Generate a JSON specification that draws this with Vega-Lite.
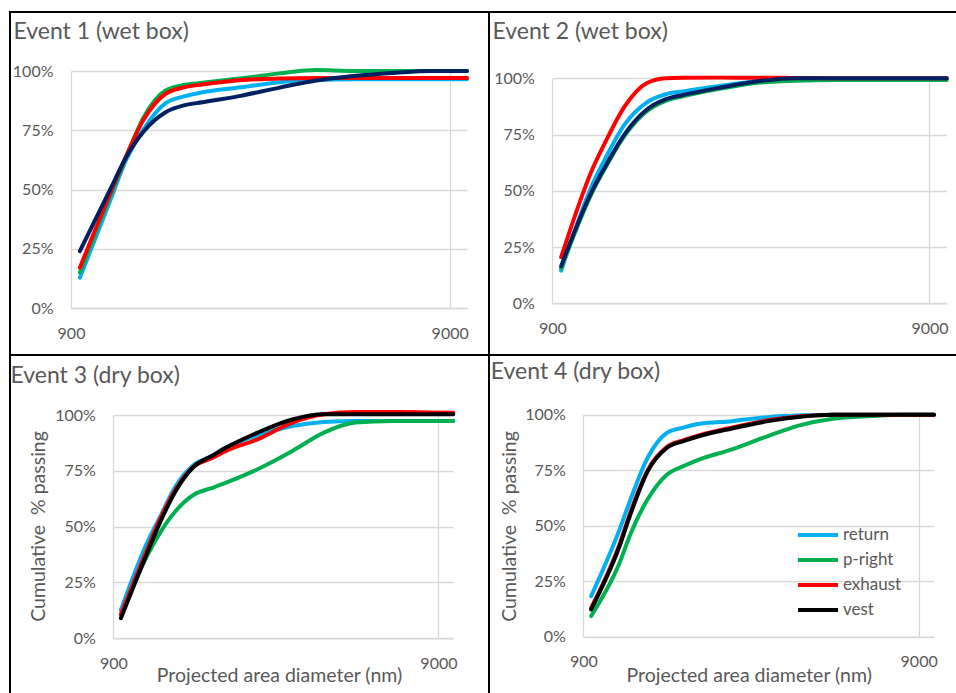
{
  "$schema": "https://vega.github.io/schema/vega-lite/v6.json",
  "padding": {"left": 9, "top": 11, "right": 0, "bottom": 0},
  "background": "white",
  "config": {
    "font": "Lato",
    "view": {"stroke": "#000000", "strokeWidth": 2},
    "axis": {
      "labelFont": "Lato", "labelFontSize": 16, "labelColor": "#595959",
      "ticks": false, "tickSize": 0,
      "gridColor": "#d9d9d9", "gridWidth": 1.3,
      "domainColor": "#d9d9d9", "domainWidth": 1.3,
      "titleFont": "Lato", "titleFontSize": 19.5, "titleColor": "#595959", "titleFontWeight": "normal",
      "labelOverlap": false, "labelFlush": false
    },
    "title": {"font": "Lato", "fontSize": 23, "color": "#595959", "fontWeight": "normal", "anchor": "start", "frame": "group"},
    "line": {"strokeWidth": 4, "interpolate": "monotone", "strokeCap": "round"}
  },
  "datasets": {
    "curves": [
      {"event": 1, "sample": "return", "diameter": 950, "passing": 0.128},
      {"event": 1, "sample": "return", "diameter": 1150, "passing": 0.465},
      {"event": 1, "sample": "return", "diameter": 1250, "passing": 0.615},
      {"event": 1, "sample": "return", "diameter": 1400, "passing": 0.755},
      {"event": 1, "sample": "return", "diameter": 1600, "passing": 0.864},
      {"event": 1, "sample": "return", "diameter": 1800, "passing": 0.894},
      {"event": 1, "sample": "return", "diameter": 2000, "passing": 0.91},
      {"event": 1, "sample": "return", "diameter": 2500, "passing": 0.93},
      {"event": 1, "sample": "return", "diameter": 3200, "passing": 0.953},
      {"event": 1, "sample": "return", "diameter": 4000, "passing": 0.962},
      {"event": 1, "sample": "return", "diameter": 5000, "passing": 0.965},
      {"event": 1, "sample": "return", "diameter": 6500, "passing": 0.965},
      {"event": 1, "sample": "return", "diameter": 8000, "passing": 0.965},
      {"event": 1, "sample": "return", "diameter": 10000, "passing": 0.965},
      {"event": 1, "sample": "p-right", "diameter": 950, "passing": 0.15},
      {"event": 1, "sample": "p-right", "diameter": 1150, "passing": 0.485},
      {"event": 1, "sample": "p-right", "diameter": 1250, "passing": 0.625},
      {"event": 1, "sample": "p-right", "diameter": 1400, "passing": 0.805},
      {"event": 1, "sample": "p-right", "diameter": 1600, "passing": 0.918},
      {"event": 1, "sample": "p-right", "diameter": 1800, "passing": 0.942},
      {"event": 1, "sample": "p-right", "diameter": 2000, "passing": 0.95},
      {"event": 1, "sample": "p-right", "diameter": 2500, "passing": 0.968},
      {"event": 1, "sample": "p-right", "diameter": 3200, "passing": 0.99},
      {"event": 1, "sample": "p-right", "diameter": 4000, "passing": 1.004},
      {"event": 1, "sample": "p-right", "diameter": 5000, "passing": 1.0},
      {"event": 1, "sample": "p-right", "diameter": 6500, "passing": 1.0},
      {"event": 1, "sample": "p-right", "diameter": 8000, "passing": 1.0},
      {"event": 1, "sample": "p-right", "diameter": 10000, "passing": 1.0},
      {"event": 1, "sample": "exhaust", "diameter": 950, "passing": 0.17},
      {"event": 1, "sample": "exhaust", "diameter": 1150, "passing": 0.495},
      {"event": 1, "sample": "exhaust", "diameter": 1250, "passing": 0.63},
      {"event": 1, "sample": "exhaust", "diameter": 1400, "passing": 0.795},
      {"event": 1, "sample": "exhaust", "diameter": 1600, "passing": 0.904},
      {"event": 1, "sample": "exhaust", "diameter": 1800, "passing": 0.932},
      {"event": 1, "sample": "exhaust", "diameter": 2000, "passing": 0.943},
      {"event": 1, "sample": "exhaust", "diameter": 2500, "passing": 0.961},
      {"event": 1, "sample": "exhaust", "diameter": 3200, "passing": 0.968},
      {"event": 1, "sample": "exhaust", "diameter": 4000, "passing": 0.97},
      {"event": 1, "sample": "exhaust", "diameter": 5000, "passing": 0.97},
      {"event": 1, "sample": "exhaust", "diameter": 6500, "passing": 0.97},
      {"event": 1, "sample": "exhaust", "diameter": 8000, "passing": 0.97},
      {"event": 1, "sample": "exhaust", "diameter": 10000, "passing": 0.97},
      {"event": 1, "sample": "vest", "diameter": 950, "passing": 0.24},
      {"event": 1, "sample": "vest", "diameter": 1150, "passing": 0.51},
      {"event": 1, "sample": "vest", "diameter": 1250, "passing": 0.628},
      {"event": 1, "sample": "vest", "diameter": 1400, "passing": 0.745},
      {"event": 1, "sample": "vest", "diameter": 1600, "passing": 0.826},
      {"event": 1, "sample": "vest", "diameter": 1800, "passing": 0.856},
      {"event": 1, "sample": "vest", "diameter": 2000, "passing": 0.868},
      {"event": 1, "sample": "vest", "diameter": 2500, "passing": 0.894},
      {"event": 1, "sample": "vest", "diameter": 3200, "passing": 0.93},
      {"event": 1, "sample": "vest", "diameter": 4000, "passing": 0.96},
      {"event": 1, "sample": "vest", "diameter": 5000, "passing": 0.979},
      {"event": 1, "sample": "vest", "diameter": 6500, "passing": 0.993},
      {"event": 1, "sample": "vest", "diameter": 8000, "passing": 1.0},
      {"event": 1, "sample": "vest", "diameter": 10000, "passing": 1.0},

      {"event": 2, "sample": "return", "diameter": 950, "passing": 0.145},
      {"event": 2, "sample": "return", "diameter": 1150, "passing": 0.529},
      {"event": 2, "sample": "return", "diameter": 1250, "passing": 0.651},
      {"event": 2, "sample": "return", "diameter": 1400, "passing": 0.795},
      {"event": 2, "sample": "return", "diameter": 1600, "passing": 0.892},
      {"event": 2, "sample": "return", "diameter": 1800, "passing": 0.929},
      {"event": 2, "sample": "return", "diameter": 2000, "passing": 0.942},
      {"event": 2, "sample": "return", "diameter": 2500, "passing": 0.966},
      {"event": 2, "sample": "return", "diameter": 3200, "passing": 0.988},
      {"event": 2, "sample": "return", "diameter": 4000, "passing": 0.995},
      {"event": 2, "sample": "return", "diameter": 5000, "passing": 0.996},
      {"event": 2, "sample": "return", "diameter": 6500, "passing": 0.996},
      {"event": 2, "sample": "return", "diameter": 8000, "passing": 0.996},
      {"event": 2, "sample": "return", "diameter": 10000, "passing": 0.996},
      {"event": 2, "sample": "p-right", "diameter": 950, "passing": 0.155},
      {"event": 2, "sample": "p-right", "diameter": 1150, "passing": 0.495},
      {"event": 2, "sample": "p-right", "diameter": 1250, "passing": 0.608},
      {"event": 2, "sample": "p-right", "diameter": 1400, "passing": 0.745},
      {"event": 2, "sample": "p-right", "diameter": 1600, "passing": 0.853},
      {"event": 2, "sample": "p-right", "diameter": 1800, "passing": 0.9},
      {"event": 2, "sample": "p-right", "diameter": 2000, "passing": 0.92},
      {"event": 2, "sample": "p-right", "diameter": 2500, "passing": 0.953},
      {"event": 2, "sample": "p-right", "diameter": 3200, "passing": 0.981},
      {"event": 2, "sample": "p-right", "diameter": 4000, "passing": 0.989},
      {"event": 2, "sample": "p-right", "diameter": 5000, "passing": 0.992},
      {"event": 2, "sample": "p-right", "diameter": 6500, "passing": 0.992},
      {"event": 2, "sample": "p-right", "diameter": 8000, "passing": 0.992},
      {"event": 2, "sample": "p-right", "diameter": 10000, "passing": 0.992},
      {"event": 2, "sample": "exhaust", "diameter": 950, "passing": 0.205},
      {"event": 2, "sample": "exhaust", "diameter": 1150, "passing": 0.597},
      {"event": 2, "sample": "exhaust", "diameter": 1250, "passing": 0.723},
      {"event": 2, "sample": "exhaust", "diameter": 1400, "passing": 0.875},
      {"event": 2, "sample": "exhaust", "diameter": 1600, "passing": 0.978},
      {"event": 2, "sample": "exhaust", "diameter": 1800, "passing": 1.0},
      {"event": 2, "sample": "exhaust", "diameter": 2000, "passing": 1.002},
      {"event": 2, "sample": "exhaust", "diameter": 2500, "passing": 1.003},
      {"event": 2, "sample": "exhaust", "diameter": 3200, "passing": 1.003},
      {"event": 2, "sample": "exhaust", "diameter": 4000, "passing": 1.001},
      {"event": 2, "sample": "exhaust", "diameter": 5000, "passing": 1.0},
      {"event": 2, "sample": "exhaust", "diameter": 6500, "passing": 1.0},
      {"event": 2, "sample": "exhaust", "diameter": 8000, "passing": 1.0},
      {"event": 2, "sample": "exhaust", "diameter": 10000, "passing": 1.0},
      {"event": 2, "sample": "vest", "diameter": 950, "passing": 0.165},
      {"event": 2, "sample": "vest", "diameter": 1150, "passing": 0.503},
      {"event": 2, "sample": "vest", "diameter": 1250, "passing": 0.615},
      {"event": 2, "sample": "vest", "diameter": 1400, "passing": 0.752},
      {"event": 2, "sample": "vest", "diameter": 1600, "passing": 0.86},
      {"event": 2, "sample": "vest", "diameter": 1800, "passing": 0.907},
      {"event": 2, "sample": "vest", "diameter": 2000, "passing": 0.926},
      {"event": 2, "sample": "vest", "diameter": 2500, "passing": 0.958},
      {"event": 2, "sample": "vest", "diameter": 3200, "passing": 0.988},
      {"event": 2, "sample": "vest", "diameter": 4000, "passing": 1.0},
      {"event": 2, "sample": "vest", "diameter": 5000, "passing": 1.0},
      {"event": 2, "sample": "vest", "diameter": 6500, "passing": 1.0},
      {"event": 2, "sample": "vest", "diameter": 8000, "passing": 1.0},
      {"event": 2, "sample": "vest", "diameter": 10000, "passing": 1.0},

      {"event": 3, "sample": "return", "diameter": 950, "passing": 0.127},
      {"event": 3, "sample": "return", "diameter": 1150, "passing": 0.436},
      {"event": 3, "sample": "return", "diameter": 1250, "passing": 0.54},
      {"event": 3, "sample": "return", "diameter": 1400, "passing": 0.682},
      {"event": 3, "sample": "return", "diameter": 1600, "passing": 0.779},
      {"event": 3, "sample": "return", "diameter": 1800, "passing": 0.815},
      {"event": 3, "sample": "return", "diameter": 2000, "passing": 0.854},
      {"event": 3, "sample": "return", "diameter": 2500, "passing": 0.91},
      {"event": 3, "sample": "return", "diameter": 3200, "passing": 0.951},
      {"event": 3, "sample": "return", "diameter": 4000, "passing": 0.969},
      {"event": 3, "sample": "return", "diameter": 5000, "passing": 0.973},
      {"event": 3, "sample": "return", "diameter": 6500, "passing": 0.973},
      {"event": 3, "sample": "return", "diameter": 8000, "passing": 0.973},
      {"event": 3, "sample": "return", "diameter": 10000, "passing": 0.973},
      {"event": 3, "sample": "p-right", "diameter": 950, "passing": 0.107},
      {"event": 3, "sample": "p-right", "diameter": 1150, "passing": 0.376},
      {"event": 3, "sample": "p-right", "diameter": 1250, "passing": 0.47},
      {"event": 3, "sample": "p-right", "diameter": 1400, "passing": 0.57},
      {"event": 3, "sample": "p-right", "diameter": 1600, "passing": 0.645},
      {"event": 3, "sample": "p-right", "diameter": 1800, "passing": 0.672},
      {"event": 3, "sample": "p-right", "diameter": 2000, "passing": 0.697},
      {"event": 3, "sample": "p-right", "diameter": 2500, "passing": 0.757},
      {"event": 3, "sample": "p-right", "diameter": 3200, "passing": 0.839},
      {"event": 3, "sample": "p-right", "diameter": 4000, "passing": 0.921},
      {"event": 3, "sample": "p-right", "diameter": 5000, "passing": 0.966},
      {"event": 3, "sample": "p-right", "diameter": 6500, "passing": 0.973},
      {"event": 3, "sample": "p-right", "diameter": 8000, "passing": 0.973},
      {"event": 3, "sample": "p-right", "diameter": 10000, "passing": 0.973},
      {"event": 3, "sample": "exhaust", "diameter": 950, "passing": 0.107},
      {"event": 3, "sample": "exhaust", "diameter": 1150, "passing": 0.406},
      {"event": 3, "sample": "exhaust", "diameter": 1250, "passing": 0.53},
      {"event": 3, "sample": "exhaust", "diameter": 1400, "passing": 0.667},
      {"event": 3, "sample": "exhaust", "diameter": 1600, "passing": 0.772},
      {"event": 3, "sample": "exhaust", "diameter": 1800, "passing": 0.805},
      {"event": 3, "sample": "exhaust", "diameter": 2000, "passing": 0.839},
      {"event": 3, "sample": "exhaust", "diameter": 2500, "passing": 0.891},
      {"event": 3, "sample": "exhaust", "diameter": 3200, "passing": 0.966},
      {"event": 3, "sample": "exhaust", "diameter": 4000, "passing": 1.003},
      {"event": 3, "sample": "exhaust", "diameter": 5000, "passing": 1.013},
      {"event": 3, "sample": "exhaust", "diameter": 6500, "passing": 1.013},
      {"event": 3, "sample": "exhaust", "diameter": 8000, "passing": 1.012},
      {"event": 3, "sample": "exhaust", "diameter": 10000, "passing": 1.01},
      {"event": 3, "sample": "vest", "diameter": 950, "passing": 0.09},
      {"event": 3, "sample": "vest", "diameter": 1150, "passing": 0.39},
      {"event": 3, "sample": "vest", "diameter": 1250, "passing": 0.515},
      {"event": 3, "sample": "vest", "diameter": 1400, "passing": 0.66},
      {"event": 3, "sample": "vest", "diameter": 1600, "passing": 0.772},
      {"event": 3, "sample": "vest", "diameter": 1800, "passing": 0.815},
      {"event": 3, "sample": "vest", "diameter": 2000, "passing": 0.854},
      {"event": 3, "sample": "vest", "diameter": 2500, "passing": 0.921},
      {"event": 3, "sample": "vest", "diameter": 3200, "passing": 0.98},
      {"event": 3, "sample": "vest", "diameter": 4000, "passing": 1.003},
      {"event": 3, "sample": "vest", "diameter": 5000, "passing": 1.003},
      {"event": 3, "sample": "vest", "diameter": 6500, "passing": 1.003},
      {"event": 3, "sample": "vest", "diameter": 8000, "passing": 1.003},
      {"event": 3, "sample": "vest", "diameter": 10000, "passing": 1.003},

      {"event": 4, "sample": "return", "diameter": 950, "passing": 0.183},
      {"event": 4, "sample": "return", "diameter": 1150, "passing": 0.476},
      {"event": 4, "sample": "return", "diameter": 1250, "passing": 0.626},
      {"event": 4, "sample": "return", "diameter": 1400, "passing": 0.806},
      {"event": 4, "sample": "return", "diameter": 1600, "passing": 0.919},
      {"event": 4, "sample": "return", "diameter": 1800, "passing": 0.943},
      {"event": 4, "sample": "return", "diameter": 2000, "passing": 0.959},
      {"event": 4, "sample": "return", "diameter": 2500, "passing": 0.971},
      {"event": 4, "sample": "return", "diameter": 3200, "passing": 0.989},
      {"event": 4, "sample": "return", "diameter": 4000, "passing": 0.997},
      {"event": 4, "sample": "return", "diameter": 5000, "passing": 1.0},
      {"event": 4, "sample": "return", "diameter": 6500, "passing": 1.0},
      {"event": 4, "sample": "return", "diameter": 8000, "passing": 1.0},
      {"event": 4, "sample": "return", "diameter": 10000, "passing": 1.0},
      {"event": 4, "sample": "p-right", "diameter": 950, "passing": 0.093},
      {"event": 4, "sample": "p-right", "diameter": 1150, "passing": 0.326},
      {"event": 4, "sample": "p-right", "diameter": 1250, "passing": 0.47},
      {"event": 4, "sample": "p-right", "diameter": 1400, "passing": 0.619},
      {"event": 4, "sample": "p-right", "diameter": 1600, "passing": 0.731},
      {"event": 4, "sample": "p-right", "diameter": 1800, "passing": 0.77},
      {"event": 4, "sample": "p-right", "diameter": 2000, "passing": 0.799},
      {"event": 4, "sample": "p-right", "diameter": 2500, "passing": 0.844},
      {"event": 4, "sample": "p-right", "diameter": 3200, "passing": 0.904},
      {"event": 4, "sample": "p-right", "diameter": 4000, "passing": 0.953},
      {"event": 4, "sample": "p-right", "diameter": 5000, "passing": 0.982},
      {"event": 4, "sample": "p-right", "diameter": 6500, "passing": 0.994},
      {"event": 4, "sample": "p-right", "diameter": 8000, "passing": 1.0},
      {"event": 4, "sample": "p-right", "diameter": 10000, "passing": 1.0},
      {"event": 4, "sample": "exhaust", "diameter": 950, "passing": 0.13},
      {"event": 4, "sample": "exhaust", "diameter": 1150, "passing": 0.41},
      {"event": 4, "sample": "exhaust", "diameter": 1250, "passing": 0.57},
      {"event": 4, "sample": "exhaust", "diameter": 1400, "passing": 0.75},
      {"event": 4, "sample": "exhaust", "diameter": 1600, "passing": 0.855},
      {"event": 4, "sample": "exhaust", "diameter": 1800, "passing": 0.886},
      {"event": 4, "sample": "exhaust", "diameter": 2000, "passing": 0.908},
      {"event": 4, "sample": "exhaust", "diameter": 2500, "passing": 0.943},
      {"event": 4, "sample": "exhaust", "diameter": 3200, "passing": 0.975},
      {"event": 4, "sample": "exhaust", "diameter": 4000, "passing": 0.993},
      {"event": 4, "sample": "exhaust", "diameter": 5000, "passing": 1.0},
      {"event": 4, "sample": "exhaust", "diameter": 6500, "passing": 1.0},
      {"event": 4, "sample": "exhaust", "diameter": 8000, "passing": 1.0},
      {"event": 4, "sample": "exhaust", "diameter": 10000, "passing": 1.0},
      {"event": 4, "sample": "vest", "diameter": 950, "passing": 0.123},
      {"event": 4, "sample": "vest", "diameter": 1150, "passing": 0.401},
      {"event": 4, "sample": "vest", "diameter": 1250, "passing": 0.56},
      {"event": 4, "sample": "vest", "diameter": 1400, "passing": 0.745},
      {"event": 4, "sample": "vest", "diameter": 1600, "passing": 0.851},
      {"event": 4, "sample": "vest", "diameter": 1800, "passing": 0.882},
      {"event": 4, "sample": "vest", "diameter": 2000, "passing": 0.904},
      {"event": 4, "sample": "vest", "diameter": 2500, "passing": 0.938},
      {"event": 4, "sample": "vest", "diameter": 3200, "passing": 0.971},
      {"event": 4, "sample": "vest", "diameter": 4000, "passing": 0.991},
      {"event": 4, "sample": "vest", "diameter": 5000, "passing": 1.0},
      {"event": 4, "sample": "vest", "diameter": 6500, "passing": 1.0},
      {"event": 4, "sample": "vest", "diameter": 8000, "passing": 1.0},
      {"event": 4, "sample": "vest", "diameter": 10000, "passing": 1.0}
    ]
  },
  "resolve": {"scale": {"color": "independent"}},
  "spacing": 0,
  "bounds": "flush",
  "columns": 2,
  "concat": [
    {
      "width": 479, "height": 343,
      "title": {"text": "Event 1 (wet box)", "offset": -32.1, "dx": 3.5},
      "data": {"name": "curves"},
      "transform": [{"filter": "datum.event == 1"}],
      "mark": {"type": "line"},
      "encoding": {
        "x": {"field": "diameter", "type": "quantitative",
          "scale": {"type": "log", "domain": [900, 10000], "nice": false, "range": [61, 457]},
          "axis": {"orient": "top", "values": [900, 9000], "format": "d", "offset": -296, "labelPadding": -17, "labelBaseline": "top", "title": null}},
        "y": {"field": "passing", "type": "quantitative",
          "scale": {"domain": [0, 1], "nice": false, "range": [296, 59]},
          "axis": {"values": [0, 0.25, 0.5, 0.75, 1], "format": ".0%", "domain": false, "offset": -61, "labelPadding": 18, "title": null}},
        "color": {"field": "sample", "type": "nominal",
          "scale": {"domain": ["return", "p-right", "exhaust", "vest"], "range": ["#00b0f0", "#00b050", "#ff0000", "#002060"]},
          "legend": null}
      }
    },
    {
      "width": 470, "height": 343,
      "title": {"text": "Event 2 (wet box)", "offset": -32.1, "dx": 3.5},
      "data": {"name": "curves"},
      "transform": [{"filter": "datum.event == 2"}],
      "mark": {"type": "line"},
      "encoding": {
        "x": {"field": "diameter", "type": "quantitative",
          "scale": {"type": "log", "domain": [900, 10000], "nice": false, "range": [63.3, 457.7]},
          "axis": {"orient": "top", "values": [900, 9000], "format": "d", "offset": -291.3, "labelPadding": -17, "labelBaseline": "top", "title": null}},
        "y": {"field": "passing", "type": "quantitative",
          "scale": {"domain": [0, 1], "nice": false, "range": [291.3, 66.3]},
          "axis": {"values": [0, 0.25, 0.5, 0.75, 1], "format": ".0%", "domain": false, "offset": -63.3, "labelPadding": 18, "title": null}},
        "color": {"field": "sample", "type": "nominal",
          "scale": {"domain": ["return", "p-right", "exhaust", "vest"], "range": ["#00b0f0", "#00b050", "#ff0000", "#002060"]},
          "legend": null}
      }
    },
    {
      "width": 479, "height": 342,
      "title": {"text": "Event 3 (dry box)", "offset": -32.5, "dx": 0.5},
      "data": {"name": "curves"},
      "transform": [{"filter": "datum.event == 3"}],
      "mark": {"type": "line"},
      "encoding": {
        "x": {"field": "diameter", "type": "quantitative",
          "scale": {"type": "log", "domain": [900, 10000], "nice": false, "range": [103.3, 443.3]},
          "axis": {"orient": "top", "values": [900, 9000], "format": "d", "offset": -283.3, "labelPadding": -17, "labelBaseline": "top",
            "title": "Projected area diameter (nm)", "titleX": 269, "titleY": 43, "titleBaseline": "alphabetic", "titleAnchor": "middle", "titleAlign": "center"}},
        "y": {"field": "passing", "type": "quantitative",
          "scale": {"domain": [0, 1], "nice": false, "range": [283.3, 60]},
          "axis": {"values": [0, 0.25, 0.5, 0.75, 1], "format": ".0%", "domain": false, "offset": -103.3, "labelPadding": 18,
            "title": "Cumulative \u00a0% passing", "titleX": -75.3, "titleY": 171, "titleBaseline": "middle", "titleAngle": 270, "titleAlign": "center"}},
        "color": {"field": "sample", "type": "nominal",
          "scale": {"domain": ["return", "p-right", "exhaust", "vest"], "range": ["#00b0f0", "#00b050", "#ff0000", "#000000"]},
          "legend": null}
      }
    },
    {
      "width": 470, "height": 342,
      "title": {"text": "Event 4 (dry box)", "offset": -29.1, "dx": 1.8},
      "data": {"name": "curves"},
      "transform": [{"filter": "datum.event == 4"}],
      "mark": {"type": "line"},
      "encoding": {
        "x": {"field": "diameter", "type": "quantitative",
          "scale": {"type": "log", "domain": [900, 10000], "nice": false, "range": [94.3, 445]},
          "axis": {"orient": "top", "values": [900, 9000], "format": "d", "offset": -281.7, "labelPadding": -17, "labelBaseline": "top",
            "title": "Projected area diameter (nm)", "titleX": 259.7, "titleY": 45, "titleBaseline": "alphabetic", "titleAnchor": "middle", "titleAlign": "center"}},
        "y": {"field": "passing", "type": "quantitative",
          "scale": {"domain": [0, 1], "nice": false, "range": [281.7, 59.7]},
          "axis": {"values": [0, 0.25, 0.5, 0.75, 1], "format": ".0%", "domain": false, "offset": -94.3, "labelPadding": 18,
            "title": "Cumulative \u00a0% passing", "titleX": -74.3, "titleY": 171, "titleBaseline": "middle", "titleAngle": 270, "titleAlign": "center"}},
        "color": {"field": "sample", "type": "nominal",
          "scale": {"domain": ["return", "p-right", "exhaust", "vest"], "range": ["#00b0f0", "#00b050", "#ff0000", "#000000"]},
          "legend": {"orient": "none", "legendX": 307, "legendY": 167.5, "title": null, "padding": 0,
            "symbolType": "stroke", "symbolSize": 1600, "symbolStrokeWidth": 4,
            "labelFont": "Lato", "labelFontSize": 17, "labelColor": "#595959", "labelOffset": 3,
            "clipHeight": 25, "rowPadding": 0}}
      }
    }
  ]
}
